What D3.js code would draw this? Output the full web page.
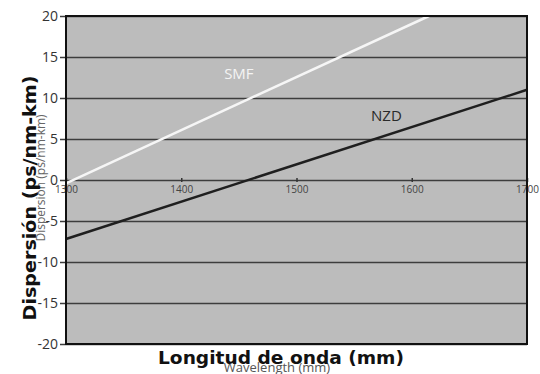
<!DOCTYPE html>
<html>
<head>
<meta charset="utf-8">
<script src="https://cdn.jsdelivr.net/npm/d3@7"></script>
<style>
  body { margin: 0; background: #fff; }
  svg { display: block; }
</style>
</head>
<body>
<script>
const width = 540;
const height = 374;
const margin = { top: 16, right: 13, bottom: 30, left: 66 };

// data
const wavelengthTicks = [1300, 1400, 1500, 1600, 1700];
const dispersionTicks = [-20, -15, -10, -5, 0, 5, 10, 15, 20];
const smfLine = [{ wl: 1300, d: -0.4 }, { wl: 1615, d: 20 }];
const nzdLine = [{ wl: 1300, d: -7.2 }, { wl: 1700, d: 11 }];
const seriesLabels = [
  { name: 'SMF', wl: 1450, d: 12.8, color: '#f4f4f4' },
  { name: 'NZD', wl: 1578, d: 7.7, color: '#2a2a2a' }
];

const svg = d3.select('body').append('svg')
  .attr('width', width)
  .attr('height', height);

const x = d3.scaleLinear()
  .domain([1300, 1700])
  .range([margin.left, width - margin.right]);

const y = d3.scaleLinear()
  .domain([-20, 20])
  .range([height - margin.bottom, margin.top]);

// plot background
svg.append('rect')
  .attr('x', x(1300))
  .attr('y', y(20))
  .attr('width', x(1700) - x(1300))
  .attr('height', y(-20) - y(20))
  .attr('fill', '#bcbcbc');

// horizontal grid + y axis
const yAxis = d3.axisLeft(y)
  .tickValues(dispersionTicks)
  .tickSize(-(x(1700) - x(1300)) - 6)
  .tickPadding(2)
  .tickFormat(d => String(d));

const gy = svg.append('g')
  .attr('transform', `translate(${x(1300) - 6}, 0)`)
  .call(yAxis);
gy.select('.domain').remove();
gy.selectAll('.tick line')
  .attr('stroke', '#3d3d3d')
  .attr('stroke-width', 1.5);
gy.selectAll('.tick text')
  .attr('fill', '#333')
  .style('font-family', '"Open Sans", sans-serif')
  .style('font-size', '14px');

// x axis along zero line
const xAxis = d3.axisBottom(x)
  .tickValues(wavelengthTicks)
  .tickSize(4)
  .tickPadding(4)
  .tickFormat(d => String(d));

const gx = svg.append('g')
  .attr('transform', `translate(0, ${y(0) - 2})`)
  .call(xAxis);
gx.select('.domain').remove();
gx.selectAll('.tick line').attr('stroke', '#333').attr('stroke-width', 1.5);
gx.selectAll('.tick text')
  .attr('fill', '#444')
  .style('font-family', '"Open Sans", sans-serif')
  .style('font-size', '10px');

// lines
const line = d3.line()
  .x(d => x(d.wl))
  .y(d => y(d.d));

svg.append('path')
  .datum(smfLine)
  .attr('d', line)
  .attr('fill', 'none')
  .attr('stroke', '#f6f6f6')
  .attr('stroke-width', 2.5);

svg.append('path')
  .datum(nzdLine)
  .attr('d', line)
  .attr('fill', 'none')
  .attr('stroke', '#1f1f1f')
  .attr('stroke-width', 2.5);

svg.selectAll('text.series')
  .data(seriesLabels)
  .join('text')
  .classed('series', true)
  .attr('x', d => x(d.wl))
  .attr('y', d => y(d.d))
  .attr('text-anchor', 'middle')
  .attr('dominant-baseline', 'middle')
  .attr('fill', d => d.color)
  .style('font-family', '"Open Sans", sans-serif')
  .style('font-size', '15px')
  .text(d => d.name);

// border
svg.append('rect')
  .attr('x', x(1300))
  .attr('y', y(20))
  .attr('width', x(1700) - x(1300))
  .attr('height', y(-20) - y(20))
  .attr('fill', 'none')
  .attr('stroke', '#111')
  .attr('stroke-width', 2);

// axis titles (faded english underneath, spanish on top)
svg.append('text')
  .attr('x', 277)
  .attr('y', 372)
  .attr('text-anchor', 'middle')
  .attr('fill', '#555')
  .style('font-family', '"Open Sans", sans-serif')
  .style('font-size', '13px')
  .text('Wavelength (mm)');

svg.append('text')
  .attr('x', 281)
  .attr('y', 364)
  .attr('text-anchor', 'middle')
  .attr('textLength', 246)
  .attr('lengthAdjust', 'spacingAndGlyphs')
  .attr('fill', '#111')
  .style('font-family', '"DejaVu Sans", sans-serif')
  .style('font-weight', 'bold')
  .style('font-size', '18px')
  .text('Longitud de onda (mm)');

svg.append('text')
  .attr('transform', 'translate(45, 178) rotate(-90)')
  .attr('text-anchor', 'middle')
  .attr('fill', '#666')
  .style('font-family', '"Open Sans", sans-serif')
  .style('font-size', '12px')
  .text('Dispersion (ps/nm-km)');

svg.append('text')
  .attr('transform', 'translate(36, 198) rotate(-90)')
  .attr('text-anchor', 'middle')
  .attr('textLength', 245)
  .attr('lengthAdjust', 'spacingAndGlyphs')
  .attr('fill', '#111')
  .style('font-family', '"DejaVu Sans", sans-serif')
  .style('font-weight', 'bold')
  .style('font-size', '18px')
  .text('Dispersión (ps/nm-km)');
</script>
</body>
</html>
